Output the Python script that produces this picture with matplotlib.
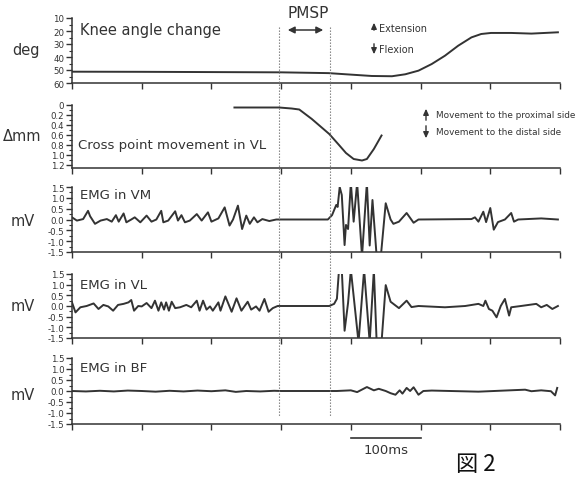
import matplotlib
matplotlib.use("Agg")
import matplotlib.pyplot as plt
from matplotlib.transforms import blended_transform_factory
from matplotlib.lines import Line2D

# ── data (time in ms) ───────────────────────────────────────────────────────
KNEE_T = [0, 100, 200, 300, 368, 393, 430, 459, 478, 497, 516, 535, 554, 573, 587, 601, 630, 659, 678, 697]
KNEE_V = [51.3, 51.4, 51.6, 51.8, 52.4, 53.3, 54.6, 54.8, 53.3, 50.5, 45.4, 39.0, 31.3, 24.9, 22.3, 21.5, 21.5, 22.0, 21.5, 21.0]

CROSS_T = [233, 297, 315, 326, 344, 369, 383, 393, 404, 416, 423, 433, 444]
CROSS_V = [0.05, 0.05, 0.07, 0.09, 0.28, 0.58, 0.80, 0.96, 1.08, 1.11, 1.08, 0.88, 0.61]

VM_T = [0, 7, 16, 23, 26, 33, 41, 50, 57, 63, 67, 74, 78, 85, 90, 98, 107, 114, 121, 128,
        131, 138, 148, 152, 157, 162, 169, 179, 186, 195, 200, 210, 219, 226, 231, 238, 244,
        250, 255, 261, 266, 273, 283, 293, 367,
        373, 379, 381, 384, 387, 391, 393, 396, 400, 404, 409, 416, 423, 427, 431, 437, 443,
        450, 457, 461, 469, 480, 490, 497,
        573, 578, 583, 590, 594, 600, 605, 611, 621, 630, 634, 640, 673, 697]
VM_V = [0.1, -0.05, 0.02, 0.4, 0.15, -0.2, -0.05, 0.02, -0.1, 0.2, -0.1, 0.28, -0.13, 0.0, 0.1,
        -0.13, 0.18, -0.1, 0.0, 0.4, -0.13, -0.05, 0.38, -0.05, 0.2, -0.13, -0.05, 0.25, -0.05,
        0.33, -0.1, 0.05, 0.56, -0.28, 0.0, 0.64, -0.44, 0.18, -0.2, 0.1, -0.13, 0.02, -0.07, 0.0, 0.0,
        0.2, 0.67, 0.58, 1.5, 1.13, -1.18, -0.25, -0.44, 1.7, -0.1, 1.7, -1.7, 1.7, -1.2, 0.9,
        -1.7, -1.7, 0.75, 0.0, -0.2, -0.1, 0.3, -0.15, 0.0,
        0.02, 0.1, -0.1, 0.36, -0.12, 0.53, -0.47, -0.12, 0.0, 0.3, -0.1, 0.0, 0.05, 0.0]

VL_T = [0, 5, 12, 21, 31, 38, 45, 52, 59, 66, 74, 81, 85, 89, 95, 100, 107, 114, 119, 124,
        128, 132, 135, 139, 143, 148, 155, 164, 171, 179, 183, 188, 193, 198, 202, 210, 213,
        220, 229, 236, 243, 252, 257, 264, 269, 276, 282, 288, 295, 369,
        376, 380, 383, 387, 391, 396, 400, 411, 419, 427, 433, 437, 444, 450, 457, 463, 469,
        480, 487, 497,
        535, 564, 583, 590, 593, 598, 603, 609, 615, 621, 627, 630, 644, 666, 673, 681, 689, 697]
VL_V = [0.17, -0.3, -0.06, 0.0, 0.12, -0.14, 0.05, -0.02, -0.22, 0.05, 0.1, 0.17, 0.28, -0.22,
        0.0, -0.02, 0.14, -0.1, 0.25, -0.22, 0.17, -0.17, 0.17, -0.22, 0.2, -0.1, -0.06, 0.05,
        -0.06, 0.25, -0.22, 0.25, -0.17, -0.02, -0.22, 0.17, -0.22, 0.45, -0.27, 0.36, -0.22,
        0.2, -0.17, -0.02, -0.22, 0.33, -0.27, -0.1, 0.0, 0.0,
        0.1, 0.34, 1.7, 1.7, -1.16, 0.15, 1.7, -1.7, 1.7, -1.7, 1.7, -1.7, -1.7, 0.98, 0.2,
        0.05, -0.1, 0.25, -0.05, 0.0,
        -0.06, 0.0, 0.1, 0.0, 0.25, -0.14, -0.22, -0.53, 0.0, 0.33, -0.45, -0.06, 0.0, 0.1,
        -0.06, 0.05, -0.14, 0.0]

BF_T = [0, 20, 40, 60, 80, 100, 120, 140, 160, 180, 200, 220, 235, 250, 270, 290, 300, 380,
        400, 409, 423, 433, 440, 450, 457, 464, 470, 474, 480, 485, 490, 497, 504, 516, 583,
        650, 659, 673, 687, 693, 696]
BF_V = [0.0, -0.02, 0.01, -0.02, 0.02, 0.0, -0.03, 0.01, -0.02, 0.02, -0.01, 0.03, -0.04, 0.0,
        -0.02, 0.01, 0.0, 0.0, 0.03, -0.05, 0.18, 0.03, 0.1, 0.0, -0.1, -0.17, 0.03, -0.12, 0.14,
        0.0, 0.17, -0.17, 0.0, 0.02, -0.03, 0.06, -0.01, 0.03, -0.01, -0.2, 0.14]

PMSP_START, PMSP_END = 297, 370
X_TICKS = [0, 100, 200, 300, 400, 500, 600, 700]

LINE = "#333333"
W, H = 585, 481

fig = plt.figure(figsize=(W / 100, H / 100), dpi=100)


def box(top, bottom):
    return [72 / W, 1 - bottom / H, 488 / W, (bottom - top) / H]


def style(ax, ylim, major, minor, labels):
    ax.set_xlim(0, 700)
    ax.set_ylim(*ylim)
    for s in ("top", "right"):
        ax.spines[s].set_visible(False)
    for s in ("left", "bottom"):
        ax.spines[s].set_linewidth(1.1)
        ax.spines[s].set_color(LINE)
    ax.set_xticks(X_TICKS)
    ax.set_xticklabels([])
    ax.set_yticks(major)
    ax.set_yticklabels(labels)
    ax.set_yticks(minor, minor=True)
    ax.tick_params(axis="x", direction="out", length=4, width=1, colors=LINE)
    ax.tick_params(axis="y", which="major", direction="out", length=4, width=1,
                   colors=LINE, labelsize=6.2, pad=1.5)
    ax.tick_params(axis="y", which="minor", direction="out", length=2.5, width=0.8, colors=LINE)
    ax.patch.set_alpha(0)


# ── panel 1: knee angle ─────────────────────────────────────────────────────
ax1 = fig.add_axes(box(19, 84))
ax1.plot(KNEE_T, KNEE_V, color=LINE, lw=1.4)
style(ax1, (60, 10), [10, 20, 30, 40, 50, 60], [15, 25, 35, 45, 55],
      ["10", "20", "30", "40", "50", "60"])
ax1.text(12, 19, "Knee angle change", fontsize=10.5, color=LINE, va="center")

# ── panel 2: cross point movement ───────────────────────────────────────────
ax2 = fig.add_axes(box(106, 169))
ax2.plot(CROSS_T, CROSS_V, color=LINE, lw=1.4)
style(ax2, (1.26, 0), [0, 0.2, 0.4, 0.6, 0.8, 1.0, 1.2], [0.1, 0.3, 0.5, 0.7, 0.9, 1.1],
      ["0", "0.2", "0.4", "0.6", "0.8", "1.0", "1.2"])
ax2.text(8, 0.8, "Cross point movement in VL", fontsize=9.5, color=LINE, va="center")

# ── EMG panels ──────────────────────────────────────────────────────────────
emg_major = [1.5, 1.0, 0.5, 0.0, -0.5, -1.0, -1.5]
emg_minor = [1.25, 0.75, 0.25, -0.25, -0.75, -1.25]
emg_labels = ["1.5", "1.0", "0.5", "0.0", "-0.5", "-1.0", "-1.5"]

panels = [
    ((188, 253), VM_T, VM_V, "EMG in VM", 1.15),
    ((275, 339), VL_T, VL_V, "EMG in VL", 1.0),
    ((359, 425), BF_T, BF_V, "EMG in BF", 1.05),
]
emg_axes = []
for (top, bottom), t, v, name, ty in panels:
    ax = fig.add_axes(box(top, bottom))
    ax.plot(t, v, color=LINE, lw=1.4, solid_joinstyle="round")
    style(ax, (-1.5, 1.5), emg_major, emg_minor, emg_labels)
    ax.text(12, ty, name, fontsize=9.5, color=LINE, va="center")
    emg_axes.append(ax)

# ── PMSP dotted lines across all panels ─────────────────────────────────────
tr = blended_transform_factory(ax1.transData, fig.transFigure)
for xv in (PMSP_START, PMSP_END):
    fig.add_artist(Line2D([xv, xv], [1 - 28 / H, 1 - 417 / H], transform=tr,
                          color="#777777", lw=0.8, ls=(0, (1.2, 1.5))))
fig.text(308 / W, 1 - 13 / H, "PMSP", fontsize=11, color=LINE, ha="center", va="center")
fig.add_artist(matplotlib.patches.FancyArrowPatch(
    (285 / W, 1 - 31 / H), (326 / W, 1 - 31 / H), transform=fig.transFigure,
    arrowstyle="<|-|>,head_length=4,head_width=2", color=LINE, lw=1.1))

# ── direction hints ─────────────────────────────────────────────────────────
def hint(x, y0, y1, tx, ty, label, size=7):
    fig.add_artist(matplotlib.patches.FancyArrowPatch(
        (x / W, 1 - y0 / H), (x / W, 1 - y1 / H), transform=fig.transFigure,
        arrowstyle="-|>,head_length=3.5,head_width=1.6", color=LINE, lw=1.0))
    fig.text(tx / W, 1 - ty / H, label, fontsize=size, color=LINE, va="center")

hint(374, 34, 21, 379, 29, "Extension")
hint(374, 42, 58, 379, 50, "Flexion")
hint(426, 124, 107, 436, 116, "Movement to the proximal side", 6.4)
hint(426, 124, 142, 436, 133, "Movement to the distal side", 6.4)

# ── axis unit labels ────────────────────────────────────────────────────────
for txt, x, y in [("deg", 26, 50), ("\u0394mm", 22, 137), ("mV", 23, 222),
                  ("mV", 23, 307), ("mV", 23, 396)]:
    fig.text(x / W, 1 - y / H, txt, fontsize=10.5, color=LINE, ha="center", va="center")

# ── 100 ms scale bar ────────────────────────────────────────────────────────
sb = emg_axes[-1]
sb_tr = blended_transform_factory(sb.transData, fig.transFigure)
fig.add_artist(Line2D([400, 500], [1 - 439 / H, 1 - 439 / H], transform=sb_tr, color=LINE, lw=1.2))
fig.text(450, 1 - 451 / H, "100ms", transform=sb_tr, fontsize=9.5, color=LINE,
         ha="center", va="center")

fig.text(476 / W, 1 - 465 / H, "図 2", fontsize=16, color="#111111", ha="center", va="center",
         family=["Noto Sans CJK JP", "DejaVu Sans"])

fig.savefig("out.png", dpi=100)
